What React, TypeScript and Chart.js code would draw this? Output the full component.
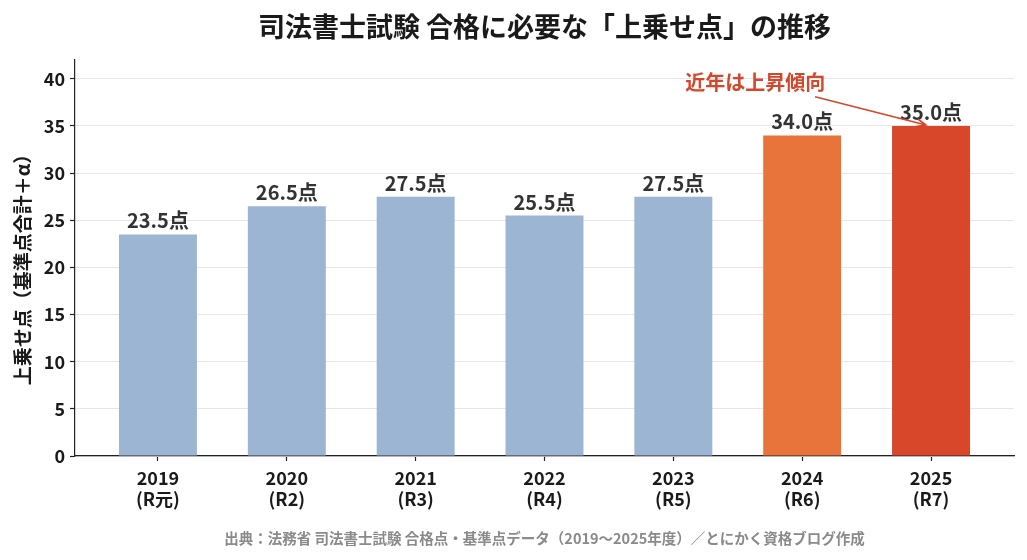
import React, { useEffect, useRef } from "react";
import { Chart, registerables } from "chart.js";

Chart.register(...registerables);

const years = ["2019", "2020", "2021", "2022", "2023", "2024", "2025"];
const eras = ["(R元)", "(R2)", "(R3)", "(R4)", "(R5)", "(R6)", "(R7)"];
const uplift = [23.5, 26.5, 27.5, 25.5, 27.5, 34.0, 35.0];
const barColors = ["#9bb5d3", "#9bb5d3", "#9bb5d3", "#9bb5d3", "#9bb5d3", "#e8743b", "#d9472b"];
const yTicks = [0, 5, 10, 15, 20, 25, 30, 35, 40];

const TITLE = "司法書士試験 合格に必要な「上乗せ点」の推移";
const Y_TITLE = "上乗せ点（基準点合計＋α）";
const FOOTER = "出典：法務省 司法書士試験 合格点・基準点データ（2019〜2025年度）／とにかく資格ブログ作成";
const NOTE = "近年は上昇傾向";

const FONT = '"Noto Sans CJK JP", "Noto Sans", sans-serif';
const RED = "#d6462b";

const textPlugin = {
  id: "texts",
  afterDatasetsDraw(chart: any) {
    const ctx = chart.ctx as CanvasRenderingContext2D;
    const { chartArea, scales } = chart;
    const xs = scales.x;
    const ys = scales.y;
    ctx.save();
    // bar labels
    const meta = chart.getDatasetMeta(0);
    ctx.font = `bold 20px ${FONT}`;
    ctx.fillStyle = "#333333";
    ctx.textAlign = "center";
    ctx.textBaseline = "alphabetic";
    meta.data.forEach((el: any, i: number) => {
      ctx.fillText(`${uplift[i].toFixed(1)}点`, el.x, el.y - 6);
    });
    // annotation
    const tx = xs.getPixelForValue(4.635);
    const ty = ys.getPixelForValue(39.6);
    ctx.font = `bold 20px ${FONT}`;
    ctx.fillStyle = RED;
    ctx.textBaseline = "middle";
    ctx.fillText(NOTE, tx, ty);
    const x1 = xs.getPixelForValue(5.1);
    const y1 = ys.getPixelForValue(38.1);
    const x2 = xs.getPixelForValue(5.96);
    const y2 = ys.getPixelForValue(35.1);
    ctx.strokeStyle = RED;
    ctx.lineWidth = 1.6;
    ctx.beginPath();
    ctx.moveTo(x1, y1);
    ctx.lineTo(x2, y2);
    const ang = Math.atan2(y2 - y1, x2 - x1);
    const hl = 10;
    const spread = 0.4;
    ctx.moveTo(x2 - hl * Math.cos(ang - spread), y2 - hl * Math.sin(ang - spread));
    ctx.lineTo(x2, y2);
    ctx.lineTo(x2 - hl * Math.cos(ang + spread), y2 - hl * Math.sin(ang + spread));
    ctx.stroke();
    // title
    const cx = (chartArea.left + chartArea.right) / 2;
    ctx.font = `bold 27px ${FONT}`;
    ctx.fillStyle = "#1a1a1a";
    ctx.textBaseline = "middle";
    ctx.fillText(TITLE, cx, 19);
    // footer
    ctx.font = `bold 14.5px ${FONT}`;
    ctx.fillStyle = "#8a8a8a";
    ctx.fillText(FOOTER, cx, 530);
    // y title
    ctx.translate(15, 257);
    ctx.rotate(-Math.PI / 2);
    ctx.font = `bold 19px ${FONT}`;
    ctx.fillStyle = "#1a1a1a";
    ctx.fillText(Y_TITLE, 0, 0);
    ctx.restore();
  },
};

export default function App() {
  const ref = useRef<HTMLCanvasElement>(null);
  useEffect(() => {
    if (!ref.current) return;
    const chart = new Chart(ref.current, {
      type: "bar",
      data: {
        datasets: [
          {
            data: uplift.map((v, i) => ({ x: i, y: v })),
            backgroundColor: barColors,
            borderWidth: 0,
            barPercentage: 0.605,
            categoryPercentage: 1,
          },
        ],
      },
      options: {
        responsive: false,
        animation: false,
        layout: { padding: { left: 0, top: 52, right: 5, bottom: 0 } },
        plugins: {
          legend: { display: false },
          tooltip: { enabled: false },
          title: { display: false },
        },
        scales: {
          x: {
            type: "linear",
            min: -0.644,
            max: 6.644,
            offset: false,
            afterBuildTicks: (axis: any) => {
              axis.ticks = years.map((_, i) => ({ value: i }));
            },
            afterFit: (axis: any) => {
              axis.height = 96;
            },
            grid: { offset: false, drawOnChartArea: false, tickLength: 5, tickColor: "#222", tickWidth: 1.2 },
            border: { color: "#222", width: 1.2 },
            ticks: {
              font: { family: FONT, size: 18, weight: "bold", lineHeight: 1.2 },
              color: "#1a1a1a",
              padding: 6,
              maxRotation: 0,
              autoSkip: false,
              callback: (v: any) => [years[v], eras[v]],
            },
          },
          y: {
            min: 0,
            max: 42,
            afterBuildTicks: (axis: any) => {
              axis.ticks = yTicks.map((v) => ({ value: v }));
            },
            afterFit: (axis: any) => {
              axis.width = 67;
            },
            grid: { color: "#e6e6e6", lineWidth: 1, tickLength: 5, tickColor: "#222", tickWidth: 1.2 },
            border: { color: "#222", width: 1.2 },
            ticks: {
              font: { family: FONT, size: 18, weight: "bold" },
              color: "#1a1a1a",
              padding: 5,
            },
          },
        },
      },
      plugins: [textPlugin],
    } as any);
    return () => chart.destroy();
  }, []);
  return (
    <div style={{ width: 1011, height: 544 }}>
      <canvas ref={ref} width={1011} height={544} style={{ display: "block" }} />
    </div>
  );
}
